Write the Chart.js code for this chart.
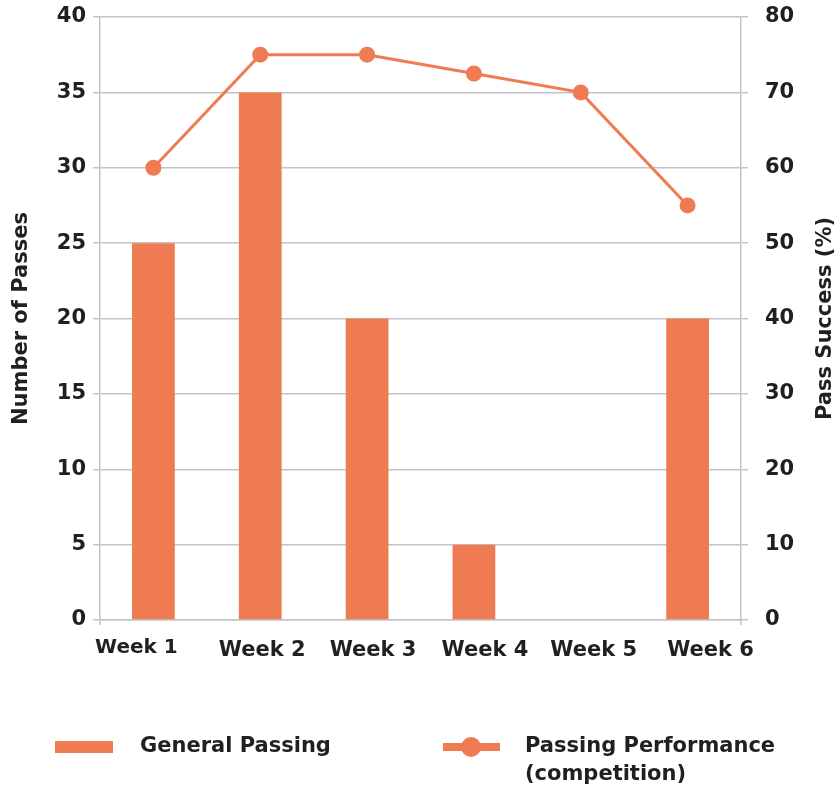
<!DOCTYPE html>
<html>
<head>
<meta charset="utf-8">
<script src="https://cdn.jsdelivr.net/npm/chart.js@4"></script>
<style>
  html, body { margin: 0; padding: 0; background: #ffffff; }
  #wrap { width: 840px; height: 790px; position: relative; }
</style>
</head>
<body>
<div id="wrap"><canvas id="c" width="840" height="790"></canvas></div>
<script>
// ---- data ----
const weeks = ['Week 1', 'Week 2', 'Week 3', 'Week 4', 'Week 5', 'Week 6'];
const generalPassing = [25, 35, 20, 5, 0, 20];          // number of passes
const passSuccess = [60, 75, 75, 72.5, 70, 55];         // pass success, %
const legendText = [['General Passing'], ['Passing Performance', '(competition)']];
const leftTitle = 'Number of Passes';
const rightTitle = 'Pass Success (%)';

// ---- style ----
const ORANGE = '#ee7b51';
const GRID = '#c4c4c8';
const INK = '#231f20';
const FONT = '"DejaVu Sans", sans-serif';
const tickFont = { family: FONT, weight: 'bold', size: 21 };
// per-label nudges (x, y) and sizes of the week labels
const weekLabelNudge = [[-17, -3], [2, 0], [6, 0], [11, 0], [13, 0], [23, 0]];
const weekLabelSize = [20, 21, 21, 21, 21, 21];

const decorations = {
  id: 'decorations',
  afterDraw(chart) {
    const { ctx, chartArea, scales } = chart;
    ctx.save();

    // short extensions of the two value axes below the baseline
    ctx.strokeStyle = GRID;
    ctx.lineWidth = 1.5;
    [chartArea.left, chartArea.right].forEach(x => {
      ctx.beginPath();
      ctx.moveTo(x, chartArea.bottom);
      ctx.lineTo(x, chartArea.bottom + 5);
      ctx.stroke();
    });

    ctx.fillStyle = INK;
    ctx.textAlign = 'center';
    ctx.textBaseline = 'middle';

    // week labels under the category axis
    weeks.forEach((w, i) => {
      ctx.font = `bold ${weekLabelSize[i]}px ${FONT}`;
      const x = scales.x.getPixelForTick(i) + weekLabelNudge[i][0];
      const y = chartArea.bottom + 31 + weekLabelNudge[i][1];
      ctx.fillText(w, x, y);
    });

    // axis titles, both reading bottom to top
    ctx.font = `bold 21px ${FONT}`;
    const midY = (chartArea.top + chartArea.bottom) / 2;
    [[22, leftTitle], [826, rightTitle]].forEach(([x, t]) => {
      ctx.save();
      ctx.translate(x, midY);
      ctx.rotate(-Math.PI / 2);
      ctx.fillText(t, 0, 0);
      ctx.restore();
    });

    // legend
    const ly = 747;
    ctx.textAlign = 'left';
    ctx.fillStyle = ORANGE;
    ctx.fillRect(55, ly - 6, 58, 12);
    ctx.strokeStyle = ORANGE;
    ctx.lineWidth = 8;
    ctx.beginPath();
    ctx.moveTo(443, ly);
    ctx.lineTo(500, ly);
    ctx.stroke();
    ctx.beginPath();
    ctx.arc(471, ly, 10, 0, Math.PI * 2);
    ctx.fill();

    ctx.fillStyle = INK;
    legendText[0].forEach((t, k) => ctx.fillText(t, 140, ly + k * 28));
    legendText[1].forEach((t, k) => ctx.fillText(t, 525, ly + k * 28));
    ctx.restore();
  }
};

function fixedWidth(w) {
  return function (s) {
    s.width = w;
    s.paddingTop = 0;
    s.paddingBottom = 0;
  };
}

new Chart(document.getElementById('c'), {
  type: 'bar',
  data: {
    labels: weeks,
    datasets: [
      {
        type: 'line',
        label: 'Passing Performance (competition)',
        data: passSuccess,
        yAxisID: 'y1',
        borderColor: ORANGE,
        backgroundColor: ORANGE,
        borderWidth: 3,
        pointRadius: 8,
        pointHoverRadius: 8,
        pointBorderWidth: 0,
        tension: 0,
        order: 0
      },
      {
        type: 'bar',
        label: 'General Passing',
        data: generalPassing,
        yAxisID: 'y',
        backgroundColor: ORANGE,
        barPercentage: 0.4,
        categoryPercentage: 1,
        order: 1
      }
    ]
  },
  options: {
    responsive: false,
    animation: false,
    layout: { padding: { top: 17, left: 0, right: 0, bottom: 0 } },
    plugins: { legend: { display: false }, tooltip: { enabled: false } },
    scales: {
      x: {
        grid: { display: false },
        border: { display: true, color: GRID, width: 1.5 },
        ticks: { display: false },
        afterFit(s) { s.height = 170; }
      },
      y: {
        position: 'left',
        min: 0, max: 40,
        ticks: { stepSize: 5, color: INK, font: tickFont, padding: 7 },
        grid: { color: GRID, lineWidth: 1.5, tickLength: 7 },
        border: { color: GRID, width: 1.5 },
        afterFit: fixedWidth(100)
      },
      y1: {
        position: 'right',
        min: 0, max: 80,
        ticks: { stepSize: 10, color: INK, font: tickFont, padding: 17 },
        grid: { drawOnChartArea: false, color: GRID, lineWidth: 1.5, tickLength: 7 },
        border: { color: GRID, width: 1.5 },
        afterFit: fixedWidth(99)
      }
    }
  },
  plugins: [decorations]
});
</script>
</body>
</html>
